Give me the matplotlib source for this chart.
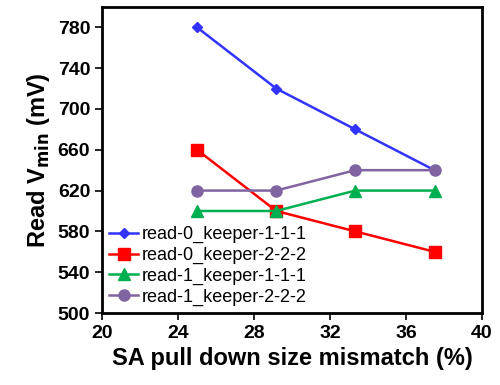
import matplotlib
matplotlib.use("Agg")
from matplotlib import pyplot as plt

# SA pull down size mismatch (%)
mismatch = [25, 29.17, 33.33, 37.5]

# Read Vmin (mV) for each configuration
r0_k111 = [780, 720, 680, 640]
r0_k222 = [660, 600, 580, 560]
r1_k111 = [600, 600, 620, 620]
r1_k222 = [620, 620, 640, 640]

labels = ["read-0_keeper-1-1-1", "read-0_keeper-2-2-2",
          "read-1_keeper-1-1-1", "read-1_keeper-2-2-2"]

plt.rcParams['font.family'] = ['Liberation Sans', 'DejaVu Sans']

fig = plt.figure(figsize=(5, 3.85), dpi=100)
ax = fig.add_axes([0.204, 0.187, 0.76, 0.795])

ax.plot(mismatch, r0_k111, color='#3333FF', marker='D', markersize=5, lw=1.8, label=labels[0])
ax.plot(mismatch, r0_k222, color='#FF0000', marker='s', markersize=8, lw=1.8, label=labels[1])
ax.plot(mismatch, r1_k111, color='#00B050', marker='^', markersize=8, lw=1.8, label=labels[2])
ax.plot(mismatch, r1_k222, color='#8064A2', marker='o', markersize=8, lw=1.8, label=labels[3])

ax.set_xlim(20, 40)
ax.set_ylim(500, 800)
ax.set_xticks(range(20, 41, 4))
ax.set_yticks(range(500, 781, 40))
ax.tick_params(direction='out', length=5, width=1.2, labelsize=14)
for lab in ax.get_xticklabels() + ax.get_yticklabels():
    lab.set_fontweight('bold')
for s in ax.spines.values():
    s.set_linewidth(2)

ax.set_xlabel("SA pull down size mismatch (%)", fontsize=17, fontweight='bold')
ax.set_ylabel("Read V$_{\\mathbf{min}}$ (mV)", fontsize=17, fontweight='bold')

ax.legend(loc='lower left', frameon=False, fontsize=13, handlelength=1.6,
          handletextpad=0.2, labelspacing=0.2, borderaxespad=0.1,
          borderpad=0.3)

fig.savefig("out.png", dpi=100)
